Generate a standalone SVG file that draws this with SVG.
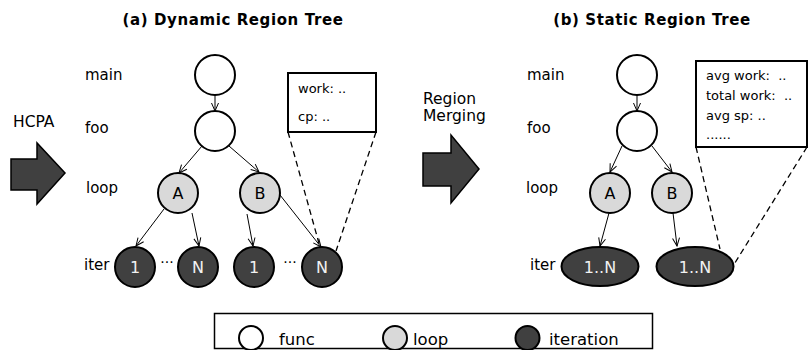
<svg xmlns="http://www.w3.org/2000/svg" width="809" height="350" viewBox="0 0 809 350">
  <defs>
    <marker id="arrow" markerUnits="userSpaceOnUse" markerWidth="10" markerHeight="10" refX="8" refY="4" orient="auto" overflow="visible">
      <path d="M0,0.5 L8,4 L0,7.5" fill="none" stroke="#000" stroke-width="1"/>
    </marker>
    <style>
      text { font-family: "DejaVu Sans", "Open Sans", sans-serif; fill: #000; }
      .title { font-size: 15px; font-weight: bold; text-anchor: middle; letter-spacing: 0.6px; }
      .lvl { font-size: 15px; }
      .leg { font-size: 16.5px; }
      .note { font-size: 13px; white-space: pre; }
      .big { font-size: 15.5px; }
      .nlabel { font-size: 16px; text-anchor: middle; }
      .light { fill: #f2f2f2; }
      .func { fill: #fff; stroke: #000; stroke-width: 2; }
      .loop { fill: #d9d9d9; stroke: #000; stroke-width: 2; }
      .iter { fill: #404040; stroke: #000; stroke-width: 2; }
      .edge { stroke: #000; stroke-width: 1; fill: none; marker-end: url(#arrow); }
      .dash { stroke: #000; stroke-width: 1.3; fill: none; stroke-dasharray: 6 4; }
      .box { fill: #fff; stroke: #000; stroke-width: 2; }
      .bigarrow { fill: #404040; stroke: #000; stroke-width: 1.5; stroke-linejoin: miter; }
      .dots { font-size: 14px; text-anchor: middle; }
    </style>
  </defs>

  <!-- panel titles -->
  <text class="title" x="233" y="25">(a) Dynamic Region Tree</text>
  <text class="title" x="652" y="25">(b) Static Region Tree</text>

  <!-- transformation arrows -->
  <g id="hcpa">
    <text class="big" x="13" y="127" font-size="16">HCPA</text>
    <polygon class="bigarrow" points="11,159 37,159 37,143 65,173 37,204 37,190 11,190"/>
  </g>
  <g id="merging">
    <text class="big" x="423" y="104">Region</text>
    <text class="big" x="423" y="121">Merging</text>
    <polygon class="bigarrow" points="423,153 451,153 451,135 479,169 451,203 451,186 423,186"/>
  </g>

  <!-- level labels -->
  <g id="levels-a">
    <text class="lvl" x="85" y="80">main</text>
    <text class="lvl" x="85" y="133">foo</text>
    <text class="lvl" x="86" y="193">loop</text>
    <text class="lvl" x="84" y="270">iter</text>
  </g>
  <g id="levels-b">
    <text class="lvl" x="527" y="80">main</text>
    <text class="lvl" x="527" y="133">foo</text>
    <text class="lvl" x="526" y="193">loop</text>
    <text class="lvl" x="530" y="270">iter</text>
  </g>

  <!-- connectors -->
  <g id="connectors">
    <line class="edge" x1="215" y1="95" x2="215" y2="111"/>
    <line class="edge" x1="202" y1="146" x2="179" y2="173"/>
    <line class="edge" x1="229" y1="146" x2="259" y2="172"/>
    <line class="edge" x1="164" y1="209" x2="136" y2="246"/>
    <line class="edge" x1="192" y1="213" x2="199" y2="246"/>
    <line class="edge" x1="247" y1="214" x2="253" y2="246"/>
    <line class="edge" x1="280" y1="195" x2="321" y2="247"/>

    <line class="edge" x1="637" y1="95" x2="637" y2="111"/>
    <line class="edge" x1="622" y1="146" x2="610" y2="172"/>
    <line class="edge" x1="652" y1="146" x2="672" y2="172"/>
    <line class="edge" x1="609" y1="213" x2="600" y2="246"/>
    <line class="edge" x1="673" y1="213" x2="677" y2="246"/>

    <line class="dash" x1="288" y1="132" x2="320" y2="247"/>
    <line class="dash" x1="376" y1="132" x2="336" y2="251"/>
    <line class="dash" x1="696" y1="147" x2="720" y2="249"/>
    <line class="dash" x1="807" y1="147" x2="733" y2="266"/>
  </g>

  <!-- dynamic region tree -->
  <g id="a-main"><circle class="func" cx="215" cy="75" r="20"/></g>
  <g id="a-foo"><circle class="func" cx="215" cy="131" r="20"/></g>
  <g id="a-loopA"><circle class="loop" cx="178" cy="193" r="20"/><text class="nlabel" x="178" y="199">A</text></g>
  <g id="a-loopB"><circle class="loop" cx="260" cy="193" r="20"/><text class="nlabel" x="260" y="199">B</text></g>
  <g id="a-A1"><circle class="iter" cx="135" cy="267" r="20"/><text class="nlabel light" x="135" y="273">1</text></g>
  <g id="a-AN"><circle class="iter" cx="198" cy="267" r="20"/><text class="nlabel light" x="198" y="273">N</text></g>
  <g id="a-B1"><circle class="iter" cx="254" cy="267" r="20"/><text class="nlabel light" x="254" y="273">1</text></g>
  <g id="a-BN"><circle class="iter" cx="322" cy="267" r="20"/><text class="nlabel light" x="322" y="273">N</text></g>
  <text class="dots" x="167" y="267">···</text>
  <text class="dots" x="290" y="267">···</text>

  <g id="a-info">
    <rect class="box" x="288" y="73" width="88" height="59"/>
    <text class="note" x="298" y="93">work: ..</text>
    <text class="note" x="298" y="121">cp: ..</text>
  </g>

  <!-- static region tree -->
  <g id="b-main"><circle class="func" cx="637" cy="75" r="20"/></g>
  <g id="b-foo"><circle class="func" cx="637" cy="131" r="20"/></g>
  <g id="b-loopA"><circle class="loop" cx="610" cy="193" r="20"/><text class="nlabel" x="610" y="199">A</text></g>
  <g id="b-loopB"><circle class="loop" cx="672" cy="193" r="20"/><text class="nlabel" x="672" y="199">B</text></g>
  <g id="b-iterA"><ellipse class="iter" cx="600" cy="266.5" rx="38.5" ry="19.5"/><text class="nlabel light" x="600" y="272.5">1..N</text></g>
  <g id="b-iterB"><ellipse class="iter" cx="695" cy="266.5" rx="38.5" ry="19.5"/><text class="nlabel light" x="695" y="272.5">1..N</text></g>

  <g id="b-info">
    <rect class="box" x="696" y="61" width="111" height="86"/>
    <text class="note" x="706" y="80" xml:space="preserve">avg work:  ..</text>
    <text class="note" x="706" y="100" xml:space="preserve">total work:  ..</text>
    <text class="note" x="706" y="120">avg sp: ..</text>
    <text class="note" x="706" y="139">......</text>
  </g>

  <!-- legend -->
  <g id="legend">
    <rect x="214.5" y="313.5" width="438" height="35" fill="#fff" stroke="#000" stroke-width="1.5"/>
    <circle class="func" cx="251" cy="338" r="12"/>
    <text class="leg" x="279" y="345">func</text>
    <circle class="loop" cx="395" cy="338" r="12"/>
    <text class="leg" x="413" y="345">loop</text>
    <circle class="iter" cx="527.5" cy="338" r="12"/>
    <text class="leg" x="549" y="345">iteration</text>
  </g>
</svg>
